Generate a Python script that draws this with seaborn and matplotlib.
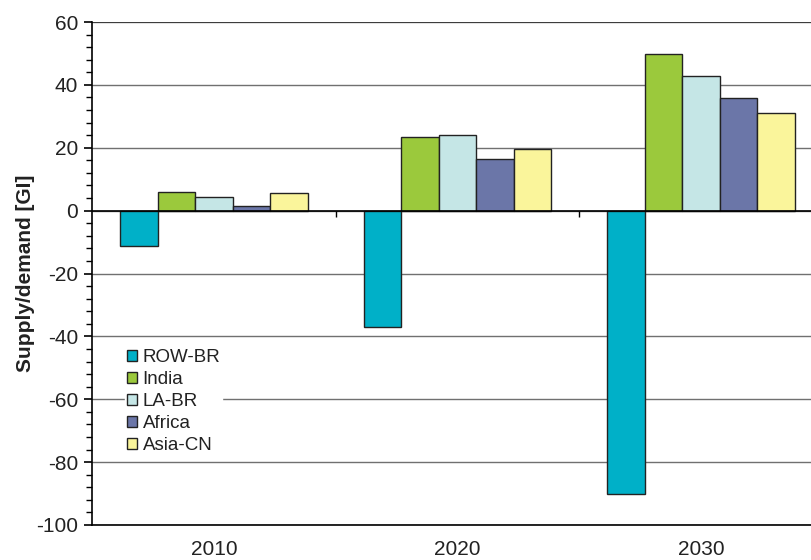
import matplotlib
matplotlib.use("Agg")
import matplotlib.pyplot as plt
import seaborn as sns
import pandas as pd
from matplotlib.ticker import MultipleLocator

years = ["2010", "2020", "2030"]
regions = ["ROW-BR", "India", "LA-BR", "Africa", "Asia-CN"]
row_br = [-11.4, -36.9, -90.1]
india = [5.8, 23.5, 49.9]
la_br = [4.4, 24.1, 42.9]
africa = [1.4, 16.5, 35.9]
asia_cn = [5.5, 19.5, 31.1]
colors = ["#00B0C8", "#9BC93C", "#C5E6E6", "#6B76A8", "#FAF59B"]

series = [row_br, india, la_br, africa, asia_cn]
rows = []
for reg, vals in zip(regions, series):
    for y, v in zip(years, vals):
        rows.append({"Year": y, "Region": reg, "Value": v})
df = pd.DataFrame(rows)

sns.set_style("white")
plt.rcParams["font.family"] = ["Liberation Sans", "DejaVu Sans"]
plt.rcParams["axes.unicode_minus"] = False

fig = plt.figure(figsize=(8.11, 5.6), dpi=100)
ax = fig.add_axes([92 / 811, 1 - 525 / 560, (823 - 92) / 811, (525 - 22) / 560])

sns.barplot(data=df, x="Year", y="Value", hue="Region", order=years,
            hue_order=regions, palette=colors, width=0.77, saturation=1,
            edgecolor="#222222", linewidth=1.0, ax=ax, zorder=3, legend=True)

ax.set_xlim(-0.5, 2.5)
ax.set_ylim(-100, 60)
ax.yaxis.set_major_locator(MultipleLocator(20))
ax.yaxis.set_minor_locator(MultipleLocator(4))
ax.grid(axis="y", which="major", color="#707070", linewidth=1.0, zorder=0)
ax.set_axisbelow(True)
ax.axhline(0, color="black", linewidth=1.2, zorder=4)
ax.axhline(60, color="#333333", linewidth=1.2, zorder=1)

# category boundary ticks on the zero line
ax.vlines([0.5, 1.5], -2, 0, color="black", linewidth=1.0, zorder=4)

for s in ["top", "right"]:
    ax.spines[s].set_visible(False)
ax.spines["left"].set_color("black")
ax.spines["left"].set_linewidth(1.2)
ax.spines["bottom"].set_color("black")
ax.spines["bottom"].set_linewidth(1.2)

ax.tick_params(axis="y", which="major", direction="out", length=6, width=1.2,
               color="black", labelsize=15, labelcolor="#222222", pad=4, left=True)
ax.tick_params(axis="y", which="minor", direction="out", length=4, width=1.0,
               color="black", left=True)
ax.tick_params(axis="x", which="major", length=0, labelsize=15,
               labelcolor="#222222", pad=11)

ax.set_xlabel("")
ax.set_ylabel("Supply/demand [GI]", fontsize=15, fontweight="bold",
              color="#222222", labelpad=1)

handles, labels = ax.get_legend_handles_labels()
leg = ax.legend(handles, labels, loc="upper left", bbox_to_anchor=(0.032, 0.372),
                frameon=True, framealpha=1, edgecolor="white", fancybox=False,
                fontsize=13.5, handlelength=0.55, handleheight=0.55,
                handletextpad=0.3, labelspacing=0.27, borderpad=0.1)
leg.set_zorder(5)
for t in leg.get_texts():
    t.set_color("#222222")

fig.savefig("out.png", dpi=100)
